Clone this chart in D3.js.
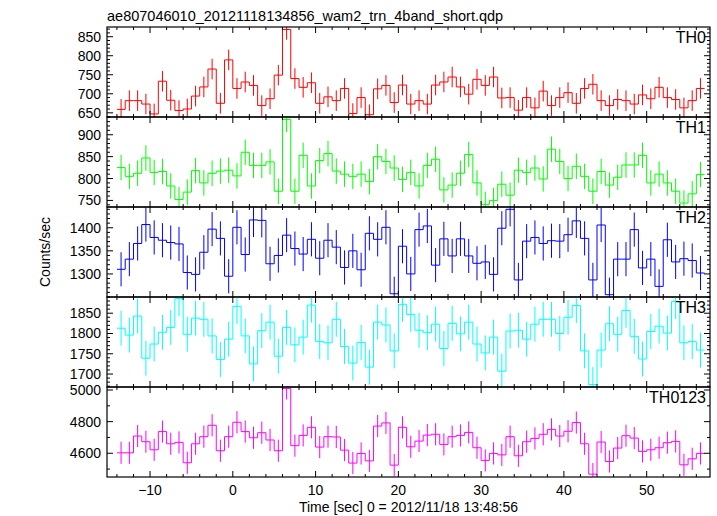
<!DOCTYPE html>
<html><head><meta charset="utf-8">
<script src="https://cdn.jsdelivr.net/npm/d3@7"></script>
<style>body{margin:0;background:#fff} svg{display:block} text{font-family:"Liberation Sans",Arial,Helvetica,sans-serif;fill:#000}</style>
</head><body><svg id="c" width="717" height="516"></svg>
<script>
// ---- data (bin start times in seconds; each bin 1 s wide) ----
const binStarts = d3.range(-14, 57, 1);
const th0 = [659,682,682,673,647,733,683,656,660,694,718,765,675,789,714,731,722,669,687,749,
  869,740,717,729,675,692,682,714,648,690,645,713,722,677,723,
  673,682,673,723,731,744,718,699,738,722,744,689,690,657,690,663,707,669,690,703,
  675,714,725,682,669,685,682,673,697,687,717,690,685,663,682,714];
const th1 = [825,805,812,847,814,816,783,752,769,818,790,812,817,819,806,860,830,830,838,771,
  935,771,853,783,841,857,817,810,805,810,793,850,839,824,798,
  814,783,830,844,774,785,812,855,790,741,750,787,762,819,814,824,799,867,839,800,
  828,805,771,816,785,803,831,831,853,790,810,790,771,744,765,809];
const th2 = [1310,1332,1366,1407,1379,1373,1368,1365,1303,1299,1347,1397,1377,1295,1401,1342,1417,1416,1322,1340,
  1384,1355,1343,1375,1334,1373,1358,1314,1350,1309,1388,1375,1401,1257,1360,
  1300,1396,1404,1319,1376,1339,1376,1339,1323,1326,1299,1399,1440,1287,1371,1379,1366,1372,1371,1385,
  1415,1377,1287,1406,1255,1332,1332,1396,1313,1332,1273,1374,1326,1333,1329,1302];
const th3 = [1813,1796,1843,1739,1774,1803,1815,1886,1798,1838,1835,1794,1736,1786,1867,1794,1725,1807,1828,1744,
  1815,1772,1791,1870,1780,1777,1835,1768,1727,1778,1717,1828,1821,1757,1872,
  1847,1808,1802,1823,1763,1825,1799,1828,1774,1752,1791,1707,1806,1808,1786,1823,1835,1835,1800,1840,
  1869,1757,1674,1759,1824,1798,1857,1793,1737,1805,1818,1801,1879,1777,1780,1759];
const th0123 = [4603,4603,4709,4673,4622,4737,4660,4669,4540,4660,4705,4777,4616,4705,4796,4737,4698,4730,4684,4616,
  5010,4648,4713,4764,4639,4705,4703,4620,4538,4599,4552,4772,4792,4525,4764,
  4641,4677,4715,4720,4656,4705,4713,4732,4635,4555,4599,4590,4705,4584,4673,4694,4720,4751,4709,4739,
  4794,4660,4468,4671,4548,4633,4711,4696,4612,4622,4635,4667,4675,4527,4565,4599];
const errHalf = [27, 29, 37, 43, 70];
const panelNames = ["TH0","TH1","TH2","TH3","TH0123"];
const panelColors = ["#ff0000","#00ff00","#0000ff","#00ffff","#ff00ff"];
const yDomains = [[639,875.5],[735,940.5],[1250,1445],[1668,1890],[4450,5019]];
const yTickLabels = [[650,700,750,800,850],[750,800,850,900],[1300,1350,1400],[1700,1750,1800,1850],[4600,4800,5000]];
const yMinorStep = [10,10,10,10,100];
const xTickLabels = [-10,0,10,20,30,40,50];
const xDomain = [-15.2, 57.65];
const titleText = "ae807046010_20121118134856_wam2_trn_4band_short.qdp";
const xLabelText = "Time [sec] 0 = 2012/11/18 13:48:56";
const yLabelText = "Counts/sec";

const series = [th0, th1, th2, th3, th0123];

// ---- layout ----
const svg = d3.select("#c");
const L = 107, R = 710, T = 27, PH = 90;
const x = d3.scaleLinear().domain(xDomain).range([L, R]);
const xMinor = d3.range(-14, 58, 2);

svg.append("text").attr("x", L).attr("y", 21).attr("font-size", 14.5).text(titleText);

series.forEach((vals, p) => {
  const top = T + p * PH, bot = top + PH;
  const y = d3.scaleLinear().domain(yDomains[p]).range([bot, top]);
  const g = svg.append("g");
  const cid = "clip" + p;
  svg.append("clipPath").attr("id", cid).append("rect")
    .attr("x", L).attr("y", top).attr("width", R - L).attr("height", PH);

  const dg = g.append("g").attr("clip-path", `url(#${cid})`);
  const pts = vals.map((v, i) => [binStarts[i], v]);
  pts.push([binStarts[binStarts.length - 1] + 1, vals[vals.length - 1]]);
  const line = d3.line().x(d => x(d[0])).y(d => y(d[1])).curve(d3.curveStepAfter);
  dg.append("path").attr("d", line(pts)).attr("fill", "none")
    .attr("stroke", panelColors[p]).attr("stroke-width", 1);
  dg.selectAll("line.err").data(vals).join("line").attr("class", "err")
    .attr("x1", (d, i) => x(binStarts[i] + 0.5)).attr("x2", (d, i) => x(binStarts[i] + 0.5))
    .attr("y1", d => y(d - errHalf[p])).attr("y2", d => y(d + errHalf[p]))
    .attr("stroke", panelColors[p]).attr("stroke-width", 1);

  // frame
  g.append("rect").attr("x", L).attr("y", top).attr("width", R - L).attr("height", PH)
    .attr("fill", "none").attr("stroke", "#000").attr("stroke-width", 1.2);

  // x ticks (top and bottom, inward)
  const tk = g.append("g").attr("stroke", "#000").attr("stroke-width", 1);
  xMinor.forEach(t => {
    const major = t % 10 === 0;
    const len = major ? 6 : 3;
    tk.append("line").attr("x1", x(t)).attr("x2", x(t)).attr("y1", bot).attr("y2", bot - len);
    tk.append("line").attr("x1", x(t)).attr("x2", x(t)).attr("y1", top).attr("y2", top + len);
  });
  // y ticks (left and right, inward)
  const [d0, d1] = yDomains[p];
  const step = yMinorStep[p];
  d3.range(Math.ceil(d0 / step) * step, d1, step).forEach(v => {
    const major = yTickLabels[p].includes(v);
    const len = major ? 6 : 3;
    tk.append("line").attr("x1", L).attr("x2", L + len).attr("y1", y(v)).attr("y2", y(v));
    tk.append("line").attr("x1", R).attr("x2", R - len).attr("y1", y(v)).attr("y2", y(v));
  });
  // y tick labels
  g.selectAll("text.yt").data(yTickLabels[p]).join("text").attr("class", "yt")
    .attr("x", L - 6).attr("y", v => y(v) + 5).attr("text-anchor", "end")
    .attr("font-size", 14).text(v => v);
  // panel label
  g.append("text").attr("x", R - 4).attr("y", top + 16).attr("text-anchor", "end")
    .attr("font-size", 16).text(panelNames[p]);
});

const bottom = T + 5 * PH;
svg.selectAll("text.xt").data(xTickLabels).join("text").attr("class", "xt")
  .attr("x", d => x(d)).attr("y", bottom + 18).attr("text-anchor", "middle")
  .attr("font-size", 14).text(d => d < 0 ? "\u2212" + Math.abs(d) : d);
svg.append("text").attr("x", (L + R) / 2).attr("y", bottom + 35).attr("text-anchor", "middle")
  .attr("font-size", 14).text(xLabelText);
svg.append("text").attr("transform", `translate(50,${T + 2.5 * PH}) rotate(-90)`)
  .attr("text-anchor", "middle").attr("font-size", 14).text(yLabelText);
</script></body></html>
